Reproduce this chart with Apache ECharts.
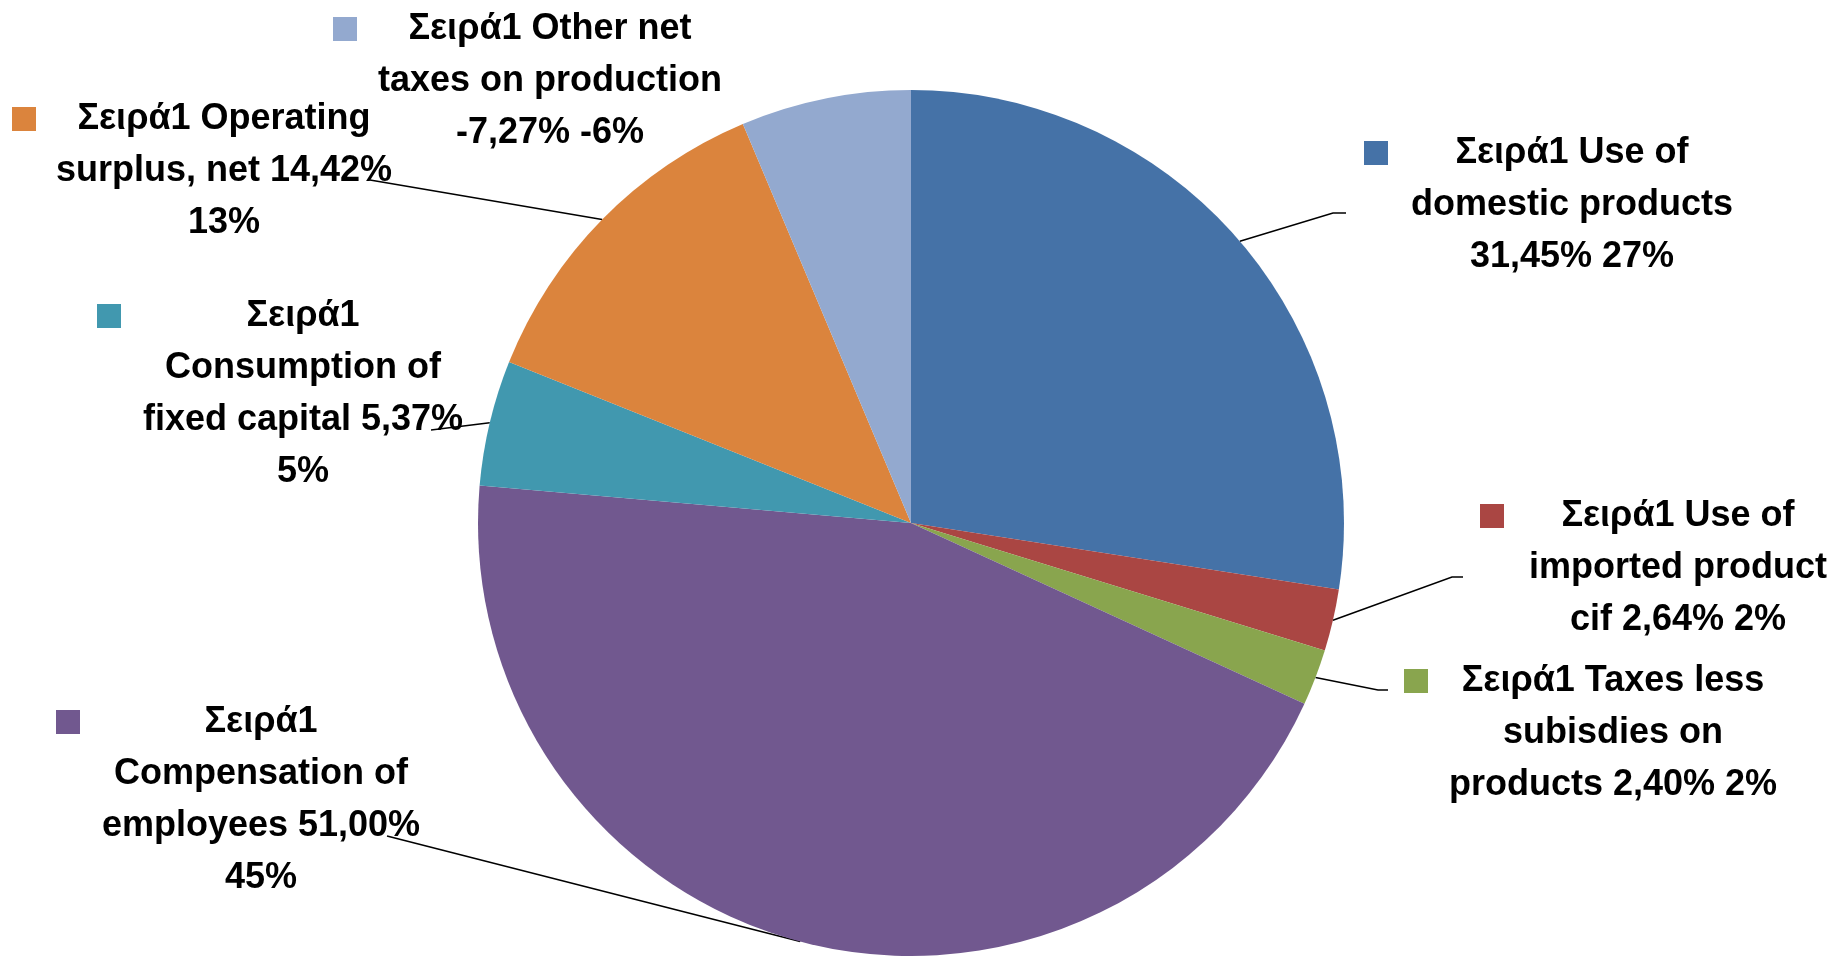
<!DOCTYPE html>
<html>
<head>
<meta charset="utf-8">
<script src="https://cdn.jsdelivr.net/npm/echarts@6/dist/echarts.min.js"></script>
<style>
  html, body { margin: 0; padding: 0; background: #fff; }
  #myChart { width: 1846px; height: 956px; }
</style>
</head>
<body>
<div id="myChart"></div>
<script>
// data
const seriesName = 'Σειρά1'
const categories = [
  'Use of domestic products',
  'Use of imported product cif',
  'Taxes less subisdies on products',
  'Compensation of employees',
  'Consumption of fixed capital',
  'Operating surplus, net',
  'Other net taxes on production'
]
const values = [31.45, 2.64, 2.40, 51.00, 5.37, 14.42, -7.27]
const colors = ['#4572A7', '#AA4643', '#89A54E', '#71588F', '#4198AF', '#DB843D', '#93A9CF']

// label placement (left of key square, top of block, text centre, wrap width, leader line end)
const labelBoxes = [
  { x: 1364, y: 127, cx: 1572, wrap: 368, line: [[1333, 213], [1346, 213]] },
  { x: 1480, y: 490, cx: 1678, wrap: 320, line: [[1452, 577], [1463, 577]] },
  { x: 1404, y: 655, cx: 1613, wrap: 355, line: [[1378, 690], [1388, 690]] },
  { x: 56, y: 696, cx: 261, wrap: 335, line: [[387, 836], [387, 836]] },
  { x: 97, y: 290, cx: 303, wrap: 330, line: [[431, 430], [431, 430]] },
  { x: 12, y: 93, cx: 224, wrap: 376, line: [[370, 180], [370, 180]] },
  { x: 333, y: 3, cx: 550, wrap: 370, line: null }
]

const FONT_SIZE = 36
const FONT_FAMILY = '"Liberation Sans", Arial, sans-serif'
const KEY = 24

const total = values.reduce((s, v) => s + Math.abs(v), 0)
const fmt = v => v.toFixed(2).replace('.', ',') + '%'

const ctx = document.createElement('canvas').getContext('2d')
ctx.font = 'bold ' + FONT_SIZE + 'px ' + FONT_FAMILY
function wrapText(str, width) {
  const words = str.split(' ')
  const lines = []
  let cur = ''
  words.forEach(w => {
    const test = cur ? cur + ' ' + w : w
    if (cur && ctx.measureText(test).width > width) {
      lines.push(cur)
      cur = w
    } else {
      cur = test
    }
  })
  if (cur) lines.push(cur)
  return lines
}

let myChart = echarts.init(document.getElementById('myChart'))

const pieData = categories.map((name, i) => ({
  name: name,
  value: Math.abs(values[i]),
  itemStyle: { color: colors[i] },
  labelLine: { show: labelBoxes[i].line != null }
}))

myChart.setOption({
  animation: false,
  backgroundColor: '#fff',
  series: [
    {
      name: seriesName,
      type: 'pie',
      center: [911, 523],
      radius: 433,
      startAngle: 90,
      clockwise: true,
      avoidLabelOverlap: false,
      emphasis: { disabled: true },
      itemStyle: { borderWidth: 0 },
      data: pieData,
      label: {
        show: true,
        position: 'outside',
        formatter: function (p) {
          const i = p.dataIndex
          const raw = values[i]
          const pct = Math.round(Math.abs(raw) / total * 100) * Math.sign(raw)
          const text = seriesName + ' ' + p.name + ' ' + fmt(raw) + ' ' + pct + '%'
          const lines = wrapText(text, labelBoxes[i].wrap)
          const key = 'k' + i
          return lines.map((ln, j) => (j === 0 ? '{' + key + '|}' : '{p|}') + '{t' + i + '|' + ln + '}').join('\n')
        },
        rich: (function () {
          const r = { p: { width: KEY, height: KEY, lineHeight: 52, align: 'left' } }
          labelBoxes.forEach((b, i) => {
            r['k' + i] = { width: KEY, height: KEY, lineHeight: 52, align: 'left', backgroundColor: colors[i] }
            r['t' + i] = {
              width: 2 * (b.cx - b.x - KEY),
              align: 'center',
              lineHeight: 52,
              fontSize: FONT_SIZE,
              fontWeight: 'bold',
              fontFamily: FONT_FAMILY,
              color: '#000'
            }
          })
          return r
        })()
      },
      labelLine: {
        show: true,
        length: 20,
        length2: 12,
        lineStyle: { color: '#000', width: 1.5 }
      },
      labelLayout: function (params) {
        const b = labelBoxes[params.dataIndex]
        const out = { x: b.x, y: b.y, align: 'left', verticalAlign: 'top' }
        if (b.line && params.labelLinePoints) {
          out.labelLinePoints = [params.labelLinePoints[0], b.line[0], b.line[1]]
        }
        return out
      }
    }
  ]
})
</script>
</body>
</html>
